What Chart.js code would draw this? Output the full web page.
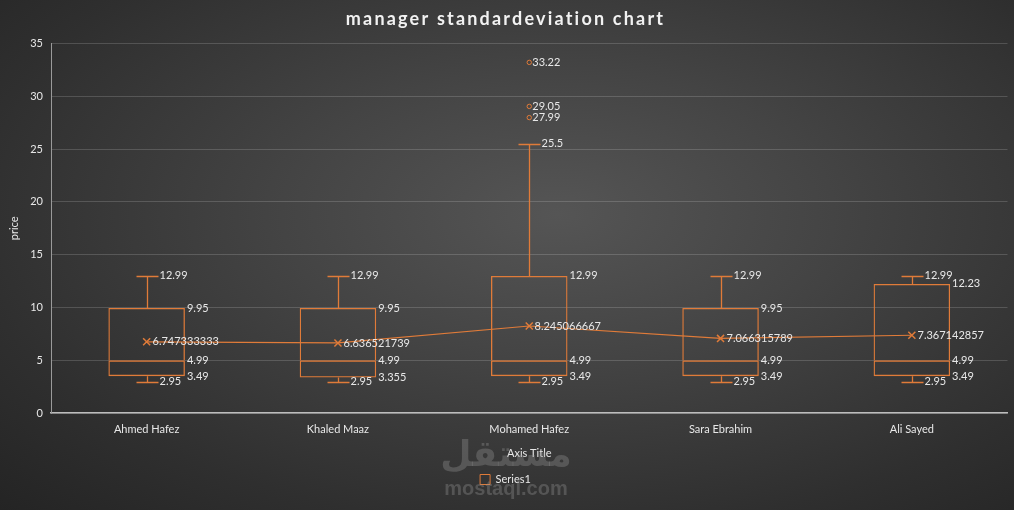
<!DOCTYPE html>
<html>
<head>
<meta charset="utf-8">
<script src="https://cdn.jsdelivr.net/npm/chart.js@4.4.1/dist/chart.umd.min.js"></script>
<style>
  html, body { margin: 0; padding: 0; }
  body {
    width: 1014px; height: 510px; overflow: hidden;
    background: radial-gradient(ellipse farthest-corner at 55% 42%, #555555 0%, #444444 35%, #2f2f2f 75%, #242424 100%);
  }
  #wrap { position: relative; width: 1014px; height: 510px; }
</style>
</head>
<body>
<div id="wrap"><canvas id="chart"></canvas></div>
<script>
// box-and-whisker values per manager
const categories = ['Ahmed Hafez', 'Khaled Maaz', 'Mohamed Hafez', 'Sara Ebrahim', 'Ali Sayed'];
const minValues = [2.95, 2.95, 2.95, 2.95, 2.95];
const q1Values = [3.49, 3.355, 3.49, 3.49, 3.49];
const medianValues = [4.99, 4.99, 4.99, 4.99, 4.99];
const q3Values = [9.95, 9.95, 12.99, 9.95, 12.23];
const maxValues = [12.99, 12.99, 25.5, 12.99, 12.99];
const meanValues = [6.747333333, 6.636521739, 8.245066667, 7.066315789, 7.367142857];
const outlierCategory = 'Mohamed Hafez';
const outlierValues = [27.99, 29.05, 33.22];
const yMin = 0, yMax = 35, yStep = 5;

const ORANGE = '#e07b39';
const TEXT = '#e8e8e8';
const FONT = 'Lato';

// whiskers, caps and the value labels, drawn through the chart scales
const boxExtras = {
  id: 'boxExtras',
  afterDatasetsDraw(chart) {
    const { ctx, scales: { x, y } } = chart;
    const lower = chart.getDatasetMeta(2);
    ctx.save();
    ctx.strokeStyle = ORANGE;
    ctx.lineWidth = 1.3;
    ctx.fillStyle = TEXT;
    ctx.font = '11px ' + FONT;
    ctx.textBaseline = 'middle';
    ctx.textAlign = 'left';
    categories.forEach((c, i) => {
      const cx = Math.round(x.getPixelForValue(i)) + 0.5;
      const bar = lower.data[i];
      const boxRight = bar.x + bar.width / 2;
      const cap = Math.round(bar.width * 0.145);
      const yMinP = Math.round(y.getPixelForValue(minValues[i])) + 0.5;
      const yMaxP = Math.round(y.getPixelForValue(maxValues[i])) + 0.5;
      ctx.beginPath();
      ctx.moveTo(cx, y.getPixelForValue(q1Values[i]));
      ctx.lineTo(cx, yMinP);
      ctx.moveTo(cx - cap, yMinP);
      ctx.lineTo(cx + cap, yMinP);
      ctx.moveTo(cx, y.getPixelForValue(q3Values[i]));
      ctx.lineTo(cx, yMaxP);
      ctx.moveTo(cx - cap, yMaxP);
      ctx.lineTo(cx + cap, yMaxP);
      ctx.stroke();

      ctx.fillText(String(maxValues[i]), cx + cap + 1, y.getPixelForValue(maxValues[i]));
      ctx.fillText(String(minValues[i]), cx + cap + 1, y.getPixelForValue(minValues[i]));
      ctx.fillText(String(q3Values[i]), boxRight + 2, y.getPixelForValue(q3Values[i]));
      ctx.fillText(String(medianValues[i]), boxRight + 2, y.getPixelForValue(medianValues[i]));
      ctx.fillText(String(q1Values[i]), boxRight + 2, y.getPixelForValue(q1Values[i]));
      ctx.fillText(String(meanValues[i]), cx + 5, y.getPixelForValue(meanValues[i]));
    });
    const oi = categories.indexOf(outlierCategory);
    const ox = x.getPixelForValue(oi);
    outlierValues.forEach(v => ctx.fillText(String(v), ox + 3, y.getPixelForValue(v)));
    ctx.restore();
  }
};

// faint site watermark seen on the reference
const watermark = {
  id: 'watermark',
  beforeDatasetsDraw(chart) {
    const { ctx } = chart;
    ctx.save();
    ctx.fillStyle = 'rgba(150,150,150,0.35)';
    ctx.textAlign = 'center';
    ctx.textBaseline = 'middle';
    ctx.font = 'bold 36px "DejaVu Sans"';
    ctx.fillText('مستقل', 506, 457);
    ctx.font = 'bold 20px "Liberation Sans"';
    ctx.fillText('mostaql.com', 506, 489);
    ctx.restore();
  }
};

const boxStyle = {
  type: 'bar',
  backgroundColor: 'transparent',
  borderColor: ORANGE,
  borderWidth: 1.3,
  grouped: false,
  categoryPercentage: 1,
  barPercentage: 0.4
};

const chart = new Chart(document.getElementById('chart'), {
  data: {
    labels: categories,
    datasets: [
      {
        type: 'line',
        label: 'mean',
        data: meanValues,
        borderColor: ORANGE,
        borderWidth: 1.2,
        pointStyle: 'crossRot',
        pointRadius: 5,
        pointBorderWidth: 1.5,
        pointBorderColor: ORANGE,
        tension: 0,
        fill: false
      },
      {
        type: 'line',
        label: 'outliers',
        data: outlierValues.map(v => ({ x: outlierCategory, y: v })),
        showLine: false,
        pointStyle: 'circle',
        pointRadius: 2.2,
        pointBorderWidth: 1,
        borderColor: ORANGE,
        backgroundColor: 'transparent'
      },
      Object.assign({ label: 'Series1', borderSkipped: false,
        data: categories.map((c, i) => [q1Values[i], medianValues[i]]) }, boxStyle),
      Object.assign({ label: 'upper', borderSkipped: 'bottom',
        data: categories.map((c, i) => [medianValues[i], q3Values[i]]) }, boxStyle)
    ]
  },
  options: {
    responsive: true,
    maintainAspectRatio: false,
    animation: false,
    events: [],
    layout: { padding: { left: 0, right: 3, top: 0, bottom: 15 } },
    plugins: {
      tooltip: { enabled: false },
      title: {
        display: true,
        text: 'manager standardeviation chart',
        color: '#f2f2f2',
        font: { family: FONT, size: 18, weight: 'bold' },
        padding: { top: 8, bottom: 14 }
      },
      legend: {
        position: 'bottom',
        labels: {
          color: TEXT,
          font: { family: FONT, size: 11 },
          boxWidth: 10,
          boxHeight: 10,
          padding: 11,
          generateLabels: () => [{
            text: 'Series1',
            fillStyle: 'transparent',
            strokeStyle: ORANGE,
            lineWidth: 1,
            fontColor: TEXT,
            datasetIndex: 2
          }]
        }
      }
    },
    scales: {
      x: {
        type: 'category',
        offset: true,
        grid: { display: false, drawTicks: false },
        border: { color: '#bdbdbd', width: 1.5 },
        ticks: { color: TEXT, font: { family: FONT, size: 11 }, padding: 10, maxRotation: 0 },
        title: {
          display: true, text: 'Axis Title', color: TEXT,
          font: { family: FONT, size: 11 }, padding: { top: 4, bottom: 3 }
        },
        afterFit: s => { s.height = 50; }
      },
      y: {
        min: yMin,
        max: yMax,
        grid: { color: 'rgba(255,255,255,0.16)', drawTicks: false },
        border: { color: '#9a9a9a', width: 1 },
        ticks: { stepSize: yStep, color: TEXT, font: { family: FONT, size: 11 }, padding: 8 },
        title: {
          display: true, text: 'price', color: TEXT,
          font: { family: FONT, size: 11 }, padding: { top: 8, bottom: 0 }
        },
        afterFit: s => { s.width = 51; }
      }
    }
  },
  plugins: [watermark, boxExtras]
});

// letter-spaced title like the original
const tb = chart.titleBlock;
const drawTitle = tb.draw.bind(tb);
tb.draw = function () {
  chart.ctx.save();
  chart.ctx.letterSpacing = '2.2px';
  drawTitle();
  chart.ctx.restore();
};
chart.draw();
</script>
</body>
</html>
